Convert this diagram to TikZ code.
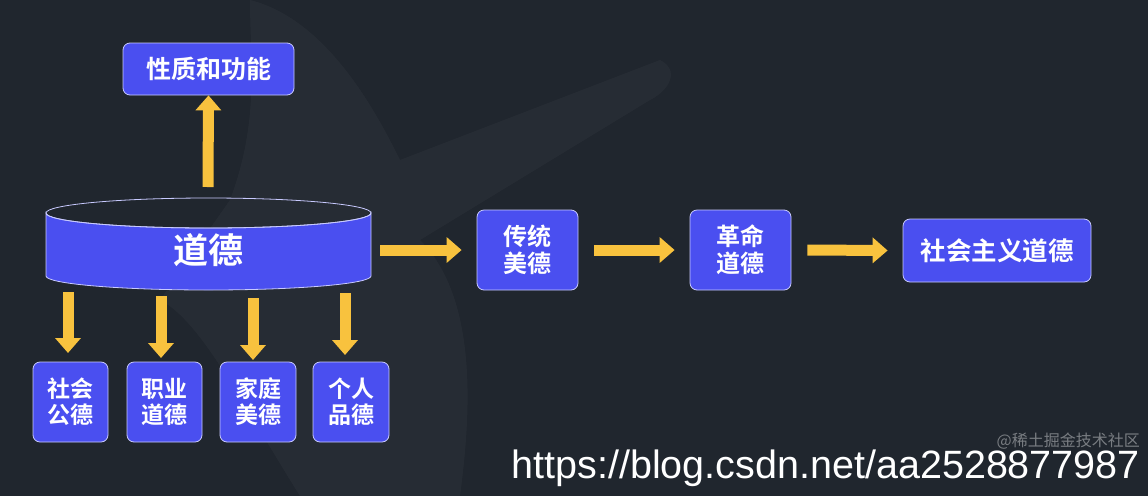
\documentclass[tikz,border=0pt]{standalone}
\usepackage{fontspec}
\newfontfamily\cjk{Noto Sans CJK SC Bold}
\newfontfamily\cjkl{Noto Sans CJK SC}
\setsansfont{Liberation Sans}
\usetikzlibrary{arrows.meta}
\definecolor{bg}{HTML}{20262E}
\definecolor{bx}{HTML}{4A4FF0}
\definecolor{bd}{HTML}{C8CAFF}
\definecolor{yl}{HTML}{F8C23E}
\begin{document}
\begin{tikzpicture}[x=1pt,y=-1pt,
  box/.style={draw=bd,line width=0.8pt,fill=bx,rounded corners=7pt,text=white,font=\cjk\fontsize{24}{27}\selectfont,align=center,inner sep=0pt},
  sbox/.style={box,font=\cjk\fontsize{23}{26}\selectfont},
  arr/.style={draw=yl,line width=11pt,-{Triangle[length=15pt,width=25pt]}}]
\fill[bg] (0,0) rectangle (1148,496);
\useasboundingbox (0,0) rectangle (1148,496);
\fill[white,opacity=0.03] (250,0) .. controls (330,20) and (380,120) .. (400,160) -- (660,60) .. controls (680,70) and (670,90) .. (650,100) -- (420,240) .. controls (480,300) and (470,420) .. (460,496) -- (300,496) .. controls (240,400) and (200,320) .. (160,300) -- (230,200) .. controls (260,120) and (250,60) .. (250,0) -- cycle;
% nodes
\node[box,minimum width=171pt,minimum height=52pt,font=\cjk\fontsize{25}{28}\selectfont] (xz) at (208.5,69) {性质和功能};
\node[box,minimum width=101pt,minimum height=80pt] (ct) at (527.5,250) {传统\\美德};
\node[box,minimum width=101pt,minimum height=80pt] (gm) at (740.5,250) {革命\\道德};
\node[box,minimum width=188pt,minimum height=63pt,font=\cjk\fontsize{25.5}{28}\selectfont] (sh) at (997,250.5) {社会主义道德};
\node[sbox,minimum width=75pt,minimum height=80pt] (b1) at (70.5,402) {社会\\公德};
\node[sbox,minimum width=75pt,minimum height=80pt] (b2) at (164.5,402) {职业\\道德};
\node[sbox,minimum width=76pt,minimum height=80pt] (b3) at (258,402) {家庭\\美德};
\node[sbox,minimum width=76pt,minimum height=80pt] (b4) at (351,402) {个人\\品德};
% cylinder
\filldraw[fill=bx,draw=bd,line width=0.8pt] (46,213) -- (46,276) arc[start angle=180,end angle=360,x radius=162.5,y radius=-14] -- (371,213) arc[start angle=0,end angle=-180,x radius=162.5,y radius=-15] -- cycle;
\draw[bd,line width=0.8pt] (208.5,213) ellipse[x radius=162.5,y radius=15];
\node[text=white,font=\cjk\fontsize{35}{40}\selectfont] (dd) at (208.5,250) {道德};
\coordinate (c1) at (68,292); \coordinate (c2) at (161,296);
\coordinate (c3) at (253,298); \coordinate (c4) at (345,293);
\coordinate (cu) at (208,187); \coordinate (cr) at (380,250);
% arrows
\draw[arr] (cu) -- (xz.south);
\draw[arr] (c1) -- (68,353);
\draw[arr] (c2) -- (161,358);
\draw[arr] (c3) -- (253,360);
\draw[arr] (c4) -- (345,355);
\draw[arr] (cr) -- ([xshift=-15pt]ct.west);
\draw[arr] ([xshift=16pt]ct.east) -- ([xshift=-15pt]gm.west);
\draw[arr] ([xshift=16pt]gm.east) -- ([xshift=-15pt]sh.west);
% texts
\node[inner sep=0pt,text=white!40!bg,font=\cjkl\fontsize{16}{18}\selectfont,anchor=east] (wm) at (1140,441) {@稀土掘金技术社区};
\node[inner sep=0pt,text=white,font=\sffamily\fontsize{39.5}{42}\selectfont,anchor=base east] (url) at (1140,478) {https://blog.csdn.net/aa2528877987};
\end{tikzpicture}
\end{document}
